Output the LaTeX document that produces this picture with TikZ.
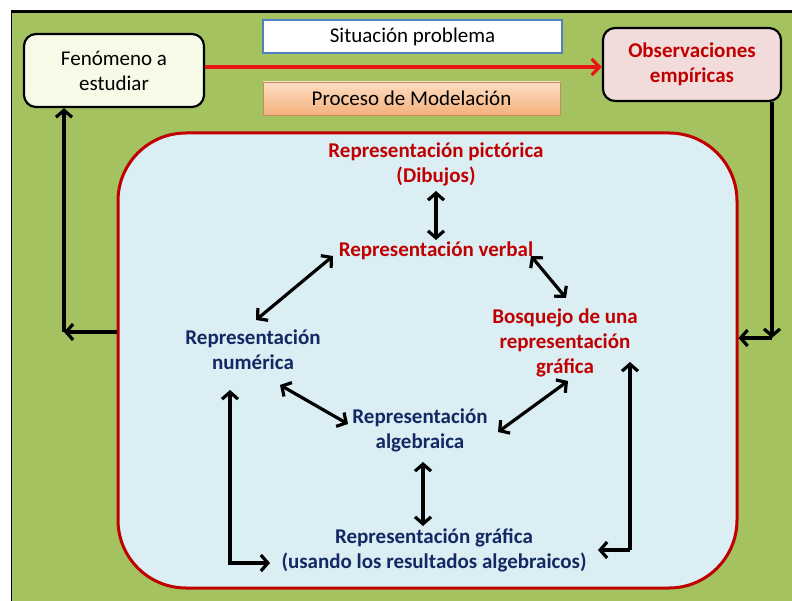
\documentclass[tikz,border=0pt]{standalone}
\usepackage{fontspec}
\setmainfont{Carlito}
\usetikzlibrary{arrows.meta}
\definecolor{frameGreen}{RGB}{164,195,96}
\definecolor{innerBlue}{RGB}{218,238,243}
\definecolor{deepRed}{RGB}{192,0,0}
\definecolor{brightRed}{RGB}{235,20,20}
\definecolor{navyText}{RGB}{20,40,100}
\definecolor{creamFill}{RGB}{248,250,232}
\definecolor{pinkFill}{RGB}{242,220,219}
\definecolor{boxBlue}{RGB}{79,129,189}
\definecolor{peachTop}{RGB}{253,222,196}
\definecolor{peachBot}{RGB}{244,176,124}
\tikzset{
  x=1pt, y=-1pt,
  txt/.style={font=\fontsize{21}{25}\selectfont, align=center, inner sep=1pt},
  redlbl/.style={txt, text=deepRed, font=\fontsize{21}{25}\selectfont\bfseries},
  bluelbl/.style={txt, text=navyText, font=\fontsize{21}{25}\selectfont\bfseries},
  link/.style={line width=3.2pt, draw=black, {Straight Barb[length=7pt,width=16pt]}-{Straight Barb[length=7pt,width=16pt]}},
  onelink/.style={line width=3.2pt, draw=black, -{Straight Barb[length=7pt,width=16pt]}},
}
\begin{document}
\begin{tikzpicture}
\useasboundingbox (0,0) rectangle (792,601);
\fill[white] (0,0) rectangle (792,601);
% green frame
\fill[frameGreen] (11,12) rectangle (792,601);
\draw[line width=3pt] (11,12) -- (792,12);
\draw[line width=0.8pt] (11,12) -- (11,601);

% top boxes
\node[draw=black, line width=2.2pt, fill=creamFill, rounded corners=12pt,
      minimum width=180pt, minimum height=73pt, txt] (fen) at (114,70.5) {Fenómeno a\\estudiar};
\node[draw=boxBlue, line width=1.2pt, fill=white, minimum width=299pt, minimum height=33pt, txt] (sit) at (412.5,36.5) {Situación problema};
\node[draw=peachBot!80!black, line width=0.6pt, top color=peachTop, bottom color=peachBot,
      minimum width=297pt, minimum height=33pt, txt] (proc) at (411.5,98.5) {Proceso de Modelación};
\node[draw=black, line width=2.2pt, fill=pinkFill, rounded corners=12pt,
      minimum width=178pt, minimum height=73pt, redlbl] (obs) at (692,64.5) {Observaciones\\empíricas};

% modelling area
\node[draw=deepRed, line width=3pt, fill=innerBlue, rounded corners=68pt,
      minimum width=619pt, minimum height=455pt] (area) at (427.5,360.5) {};

\draw[brightRed, line width=3.2pt, -{Straight Barb[length=8pt,width=16pt]}] (fen.east |- 0,67) -- (obs.west |- 0,67);

% outer feedback loops
\coordinate (rcorner) at (772,338);
\coordinate (lcorner) at (64,332);
\draw[onelink] (obs.south -| rcorner) -- (rcorner);
\draw[onelink] (rcorner) -- (area.east |- rcorner);
\draw[onelink] (area.west |- lcorner) -- (lcorner);
\draw[onelink] (lcorner) -- (lcorner |- fen.south);

% representations
\node[redlbl] (pict) at (436,164) {Representación pictórica\\(Dibujos)};
\node[redlbl] (verb) at (436,251) {Representación verbal};
\node[redlbl] (bosq) at (565,343) {Bosquejo de una\\representación\\gráfica};
\node[bluelbl] (num) at (253,350) {Representación\\numérica};
\node[bluelbl] (alg) at (420,430) {Representación\\algebraica};
\node[bluelbl] (graf) at (434,550) {Representación gráfica\\(usando los resultados algebraicos)};

\draw[link] (436,191) -- (436,240);
\draw[link] (333,256) -- (256,320);
\draw[link] (531,256) -- (566,298);
\draw[link] (280,385) -- (348,424);
\draw[link] (498,432) -- (568,381);
\draw[link] (423,462) -- (423,526);

\coordinate (lbend) at (230,563);
\coordinate (rbend) at (630,550);
\draw[line width=3.2pt] (230,392) -- (lbend) -- (268,563);
\draw[onelink] (lbend) -- (230,390);
\draw[onelink] (lbend) -- (270,563);
\draw[onelink] (rbend) -- (630,362);
\draw[onelink] (rbend) -- (598,550);
\end{tikzpicture}
\end{document}
